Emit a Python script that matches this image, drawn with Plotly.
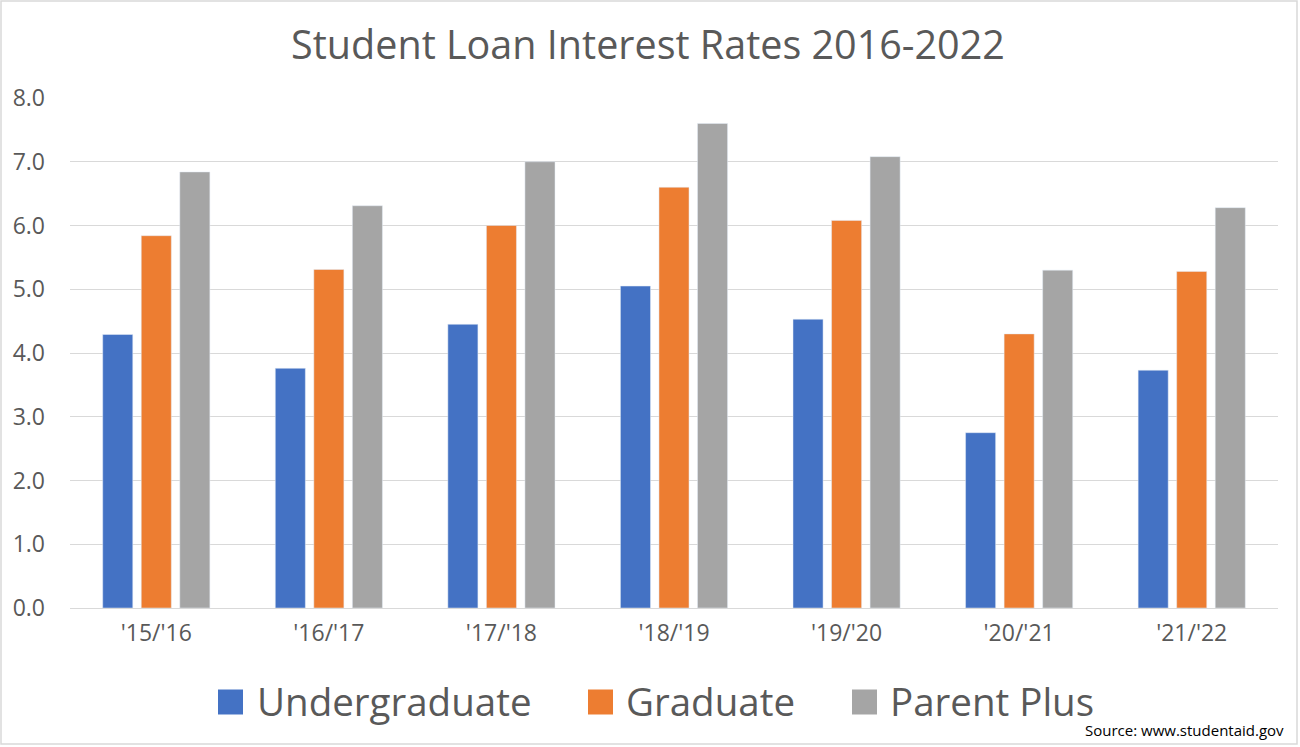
import plotly.graph_objects as go

categories = ["'15/'16", "'16/'17", "'17/'18", "'18/'19", "'19/'20", "'20/'21", "'21/'22"]
undergraduate = [4.29, 3.76, 4.45, 5.05, 4.53, 2.75, 3.73]
graduate = [5.84, 5.31, 6.00, 6.60, 6.08, 4.30, 5.28]
parent_plus = [6.84, 6.31, 7.00, 7.60, 7.08, 5.30, 6.28]
y_ticks = [0, 1, 2, 3, 4, 5, 6, 7, 8]
series_names = ["Undergraduate", "Graduate", "Parent Plus"]
series_colors = ["#4472C4", "#ED7D31", "#A5A5A5"]

FONT = "Open Sans"
TXT = "#595959"
W, H = 1300, 747
L, R, T, B = 70, 22, 98, 139
PW, PH = W - L - R, H - T - B


def px_x(px):
    return (px - L) / PW


def px_y(py):
    return (H - B - py) / PH


fig = go.Figure()
for name, vals, col in zip(series_names, [undergraduate, graduate, parent_plus], series_colors):
    fig.add_trace(go.Bar(name=name, x=categories, y=vals, marker_color=col, showlegend=False))

# manual legend (large square swatches like the original)
legend_square_x = [218, 588, 852]
legend_text_x = [255, 624, 888]
legend_y = 702
shapes = []
annotations = []
for sx, tx, name, col in zip(legend_square_x, legend_text_x, series_names, series_colors):
    shapes.append(dict(type="rect", xref="paper", yref="paper",
                       x0=px_x(sx), x1=px_x(sx + 25), y0=px_y(legend_y + 12.5), y1=px_y(legend_y - 12.5),
                       fillcolor=col, line=dict(width=0)))
    annotations.append(dict(text=name, xref="paper", yref="paper", x=px_x(tx), xanchor="left",
                            y=px_y(legend_y - 1), yanchor="middle", showarrow=False,
                            font=dict(family=FONT, size=38.5, color=TXT)))

shapes.append(dict(type="rect", xref="paper", yref="paper", x0=px_x(1), x1=px_x(1297),
                   y0=px_y(744), y1=px_y(1), line=dict(color="#D9D9D9", width=1.5)))
annotations.append(dict(text="Source: www.studentaid.gov", xref="paper", yref="paper",
                        x=px_x(1286), xanchor="right", y=px_y(730), yanchor="middle",
                        showarrow=False, font=dict(family=FONT, size=15, color="black")))

fig.update_layout(
    width=W, height=H,
    paper_bgcolor="white", plot_bgcolor="white",
    barmode="group", bargap=0.33, bargroupgap=0.22,
    margin=dict(l=L, r=R, t=T, b=B),
    title=dict(text="Student Loan Interest Rates 2016-2022", x=648 / W, xanchor="center",
               y=1 - 45 / H, yanchor="middle", xref="container", yref="container",
               font=dict(family=FONT, size=39.5, color=TXT)),
    font=dict(family=FONT, color=TXT),
    showlegend=False,
    xaxis=dict(showgrid=False, showline=False, ticks="", tickfont=dict(size=23, color=TXT),
               ticklabelstandoff=9),
    yaxis=dict(range=[0, 8], tickvals=y_ticks, tickformat=".1f", showgrid=True,
               gridcolor="#D9D9D9", gridwidth=1, zeroline=True, zerolinecolor="#D9D9D9",
               zerolinewidth=1, tickfont=dict(size=23, color=TXT), ticklabelstandoff=24),
    shapes=shapes,
    annotations=annotations,
)

fig.write_html("out.html", config={"displayModeBar": False},
               post_script="document.body.style.margin='0px';")
